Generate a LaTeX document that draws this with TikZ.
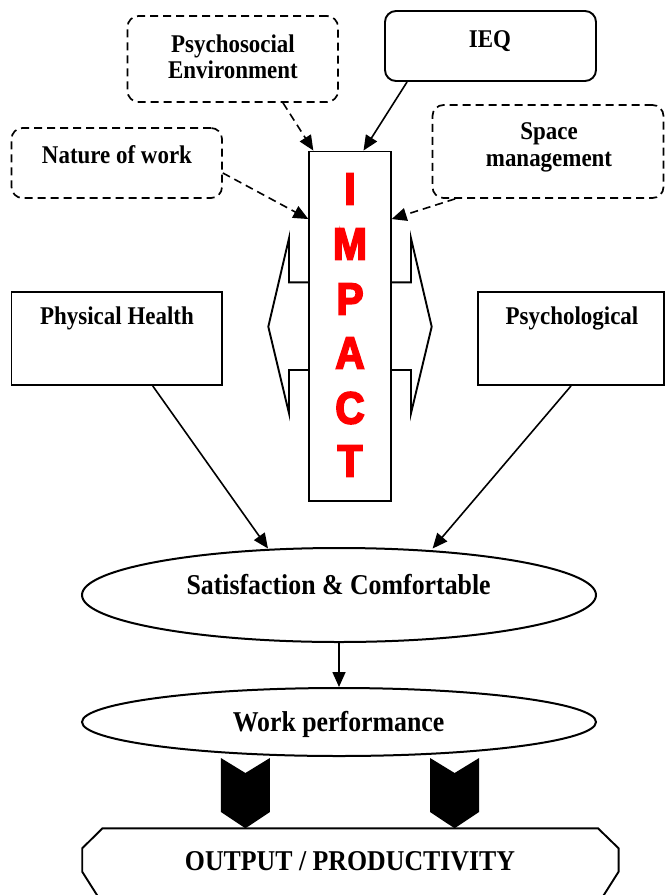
\documentclass[tikz,border=0pt]{standalone}
\usepackage{fontspec}
\newfontfamily\lblfont[FakeStretch=0.9]{Liberation Serif}
\newfontfamily\impfont[FakeStretch=0.9,FakeBold=4]{Liberation Sans}
\usetikzlibrary{shapes.geometric,arrows.meta,calc}
\begin{document}
\begin{tikzpicture}[x=1pt,y=-1pt,
  line width=1.9pt,
  box/.style={draw, rectangle, inner sep=0pt},
  softbox/.style={box, rounded corners=11pt},
  dashbox/.style={softbox, line width=1.7pt, dash pattern=on 8pt off 5pt},
  oval/.style={draw, ellipse, inner sep=0pt, line width=2pt},
  lbl/.style={anchor=base, inner sep=0pt, font=\lblfont\bfseries\fontsize{25.5}{26}\selectfont},
  biglbl/.style={anchor=base, inner sep=0pt, font=\lblfont\bfseries\fontsize{28.7}{30}\selectfont},
  letter/.style={anchor=base, inner sep=0pt, text=red, font=\impfont\bfseries\fontsize{45}{45}\selectfont},
  link/.style={-{Triangle[length=15pt,width=13pt]}, line width=1.6pt},
  dashlink/.style={link, dash pattern=on 8pt off 5pt},
]
\useasboundingbox (0,0) rectangle (665,895);

% factor boxes along the top
\node[dashbox, minimum width=210.5pt, minimum height=86pt] (psy) at (232.75,59) {};
\node[lbl] (psytext1) at (233,52) {Psychosocial};
\node[lbl] (psytext2) at (233,78) {Environment};

\node[softbox, minimum width=211pt, minimum height=70pt] (ieq) at (490.5,46) {};
\node[lbl] (ieqtext) at (490,47.7) {IEQ};

\node[dashbox, minimum width=210.5pt, minimum height=70pt] (nature) at (116.75,163) {};
\node[lbl] (naturetext) at (117,163) {Nature of work};

\node[dashbox, minimum width=231pt, minimum height=93pt] (space) at (548,151.5) {};
\node[lbl] (spacetext1) at (549,139) {Space};
\node[lbl] (spacetext2) at (549,166) {management};

% health boxes
\node[box, minimum width=210.5pt, minimum height=93pt] (phys) at (116.75,338.5) {};
\node[lbl] (physt) at (117,324) {Physical Health};

\node[box, minimum width=186pt, minimum height=93pt] (psych) at (571,338.5) {};
\node[lbl] (psycht) at (572,324) {Psychological};

% left-right double arrow behind the IMPACT column
\draw[fill=white] (268.3,326.7) -- (289,238.3) -- (289,282.3) -- (411,282.3)
  -- (411,238.3) -- (431.7,326.7) -- (411,413.3) -- (411,370) -- (289,370)
  -- (289,413.3) -- cycle;

% IMPACT column
\node[box, fill=white, minimum width=81.4pt, minimum height=349.5pt] (impact) at (350,326.25) {};
\foreach \ch/\yy/\nm in {I/204.5/li, M/259.5/lm, P/314.5/lp, A/368.5/la, C/423.5/lc, T/476.5/lt}
  \node[letter] (\nm) at (350,\yy) {\ch};

% outcome ellipses
\node[oval, minimum width=514pt, minimum height=94pt] (sat) at (339,595) {};
\node[biglbl] (sattext) at (338.6,594) {Satisfaction \& Comfortable};

\node[oval, minimum width=514pt, minimum height=68pt] (work) at (339,722) {};
\node[biglbl] (worktext) at (338.6,731.7) {Work performance};

% connectors
\draw[dashlink] ($(psy.south)+(50.25,0)$) -- ($(impact.north west)+(5,0)$);
\draw[link] ($(ieq.south west)+(23,0)$) -- ($(impact.north)+(13.5,0)$);
\draw[dashlink] ($(nature.east)+(0,10)$) -- ($(impact.north west)+(0,68.5)$);
\draw[dashlink] ($(space.south west)+(23.5,0)$) -- ($(impact.north east)+(0,68.5)$);
\draw[link] ($(phys.south)+(36,0)$) -- ($(sat.north)+(-71,1.5)$);
\draw[link] (psych.south) -- ($(sat.north)+(93.6,1.5)$);
\draw[link] (sat.south) -- (work.north);

% block chevrons into the output
\foreach \cx in {245.4,454.6}
  \fill (\cx-24.5,758) -- (\cx,773) -- (\cx+24.5,758) -- (\cx+24.5,812)
    -- (\cx,828.3) -- (\cx-24.5,812) -- cycle;

% output octagon, running past the lower edge
\begin{scope}
  \clip (0,0) rectangle (665,895);
  \draw (103.3,905) -- (82.2,871.7) -- (82.2,848.3) -- (102.5,828.3) -- (598,828.3)
    -- (618.6,848.3) -- (618.6,871.7) -- (597.5,905);
\end{scope}
\node[biglbl] (out) at (350,870) {OUTPUT / PRODUCTIVITY};
\end{tikzpicture}
\end{document}
